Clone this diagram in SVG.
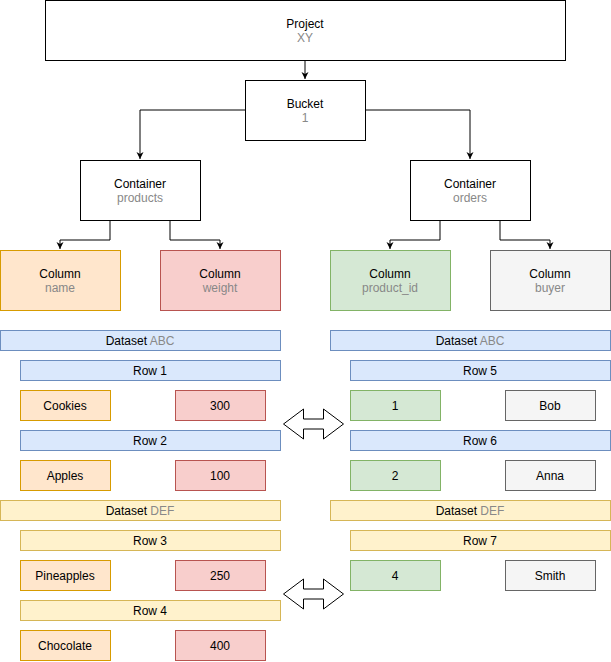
<svg xmlns="http://www.w3.org/2000/svg" width="611" height="662" viewBox="0 0 611 662">
<style>
text{font-family:"Liberation Sans",Arial,sans-serif;font-size:12px;text-anchor:middle;fill:#000}
.g{fill:#888}
.w{fill:#fff;stroke:#000}
.b{fill:#dae8fc;stroke:#6c8ebf}
.o{fill:#ffe6cc;stroke:#d79b00}
.r{fill:#f8cecc;stroke:#b85450}
.gr{fill:#d5e8d4;stroke:#82b366}
.s{fill:#f5f5f5;stroke:#666}
.y{fill:#fff2cc;stroke:#d6b656}
.e{fill:none;stroke:#000}
</style>
<defs><marker id="a" markerWidth="8" markerHeight="8" refX="7" refY="4" orient="auto" markerUnits="userSpaceOnUse"><path d="M0,0.5 L7,4 L0,7.5 L2,4 Z" fill="#000"/></marker></defs>
<g id="connectors">
<path class="e" d="M305,60V79" marker-end="url(#a)"/>
<path class="e" d="M245,110H140V159" marker-end="url(#a)"/>
<path class="e" d="M365,110H470V159" marker-end="url(#a)"/>
<path class="e" d="M110,220V240H60V249" marker-end="url(#a)"/>
<path class="e" d="M170,220V240H220V249" marker-end="url(#a)"/>
<path class="e" d="M440,220V240H390V249" marker-end="url(#a)"/>
<path class="e" d="M500,220V240H550V249" marker-end="url(#a)"/>
<path class="w" d="M283.5,424L303.5,409V419H323.5V409L343.5,424L323.5,439V429H303.5V439Z"/>
<path class="w" d="M283.5,594L303.5,579V589H323.5V579L343.5,594L323.5,609V599H303.5V609Z"/>
</g>
<g id="project"><rect class="w" x="45.5" y="0.5" width="520" height="60"/><text x="305" y="28">Project</text><text class="g" x="305" y="42">XY</text></g>
<g id="bucket"><rect class="w" x="245.5" y="80.5" width="120" height="60"/><text x="305" y="108">Bucket</text><text class="g" x="305" y="122">1</text></g>
<g id="cprod"><rect class="w" x="80.5" y="160.5" width="120" height="60"/><text x="140" y="188">Container</text><text class="g" x="140" y="202">products</text></g>
<g id="cord"><rect class="w" x="410.5" y="160.5" width="120" height="60"/><text x="470" y="188">Container</text><text class="g" x="470" y="202">orders</text></g>
<g id="colname"><rect class="o" x="0.5" y="250.5" width="120" height="60"/><text x="60" y="278">Column</text><text class="g" x="60" y="292">name</text></g>
<g id="colweight"><rect class="r" x="160.5" y="250.5" width="120" height="60"/><text x="220" y="278">Column</text><text class="g" x="220" y="292">weight</text></g>
<g id="colpid"><rect class="gr" x="330.5" y="250.5" width="120" height="60"/><text x="390" y="278">Column</text><text class="g" x="390" y="292">product_id</text></g>
<g id="colbuyer"><rect class="s" x="490.5" y="250.5" width="120" height="60"/><text x="550" y="278">Column</text><text class="g" x="550" y="292">buyer</text></g>
<g id="dsabcL"><rect class="b" x="0.5" y="330.5" width="280" height="20"/><text x="140" y="345">Dataset <tspan class="g">ABC</tspan></text></g>
<g id="row1"><rect class="b" x="20.5" y="360.5" width="260" height="20"/><text x="150" y="375">Row 1</text></g>
<g id="cookies"><rect class="o" x="20.5" y="390.5" width="90" height="30"/><text x="65" y="410">Cookies</text></g>
<g id="v300"><rect class="r" x="175.5" y="390.5" width="90" height="30"/><text x="220" y="410">300</text></g>
<g id="row2"><rect class="b" x="20.5" y="430.5" width="260" height="20"/><text x="150" y="445">Row 2</text></g>
<g id="apples"><rect class="o" x="20.5" y="460.5" width="90" height="30"/><text x="65" y="480">Apples</text></g>
<g id="v100"><rect class="r" x="175.5" y="460.5" width="90" height="30"/><text x="220" y="480">100</text></g>
<g id="dsdefL"><rect class="y" x="0.5" y="500.5" width="280" height="20"/><text x="140" y="515">Dataset <tspan class="g">DEF</tspan></text></g>
<g id="row3"><rect class="y" x="20.5" y="530.5" width="260" height="20"/><text x="150" y="545">Row 3</text></g>
<g id="pine"><rect class="o" x="20.5" y="560.5" width="90" height="30"/><text x="65" y="580">Pineapples</text></g>
<g id="v250"><rect class="r" x="175.5" y="560.5" width="90" height="30"/><text x="220" y="580">250</text></g>
<g id="row4"><rect class="y" x="20.5" y="600.5" width="260" height="20"/><text x="150" y="615">Row 4</text></g>
<g id="choc"><rect class="o" x="20.5" y="630.5" width="90" height="30"/><text x="65" y="650">Chocolate</text></g>
<g id="v400"><rect class="r" x="175.5" y="630.5" width="90" height="30"/><text x="220" y="650">400</text></g>
<g id="dsabcR"><rect class="b" x="330.5" y="330.5" width="280" height="20"/><text x="470" y="345">Dataset <tspan class="g">ABC</tspan></text></g>
<g id="row5"><rect class="b" x="350.5" y="360.5" width="260" height="20"/><text x="480" y="375">Row 5</text></g>
<g id="v1"><rect class="gr" x="350.5" y="390.5" width="90" height="30"/><text x="395" y="410">1</text></g>
<g id="bob"><rect class="s" x="505.5" y="390.5" width="90" height="30"/><text x="550" y="410">Bob</text></g>
<g id="row6"><rect class="b" x="350.5" y="430.5" width="260" height="20"/><text x="480" y="445">Row 6</text></g>
<g id="v2"><rect class="gr" x="350.5" y="460.5" width="90" height="30"/><text x="395" y="480">2</text></g>
<g id="anna"><rect class="s" x="505.5" y="460.5" width="90" height="30"/><text x="550" y="480">Anna</text></g>
<g id="dsdefR"><rect class="y" x="330.5" y="500.5" width="280" height="20"/><text x="470" y="515">Dataset <tspan class="g">DEF</tspan></text></g>
<g id="row7"><rect class="y" x="350.5" y="530.5" width="260" height="20"/><text x="480" y="545">Row 7</text></g>
<g id="v4"><rect class="gr" x="350.5" y="560.5" width="90" height="30"/><text x="395" y="580">4</text></g>
<g id="smith"><rect class="s" x="505.5" y="560.5" width="90" height="30"/><text x="550" y="580">Smith</text></g>
</svg>
